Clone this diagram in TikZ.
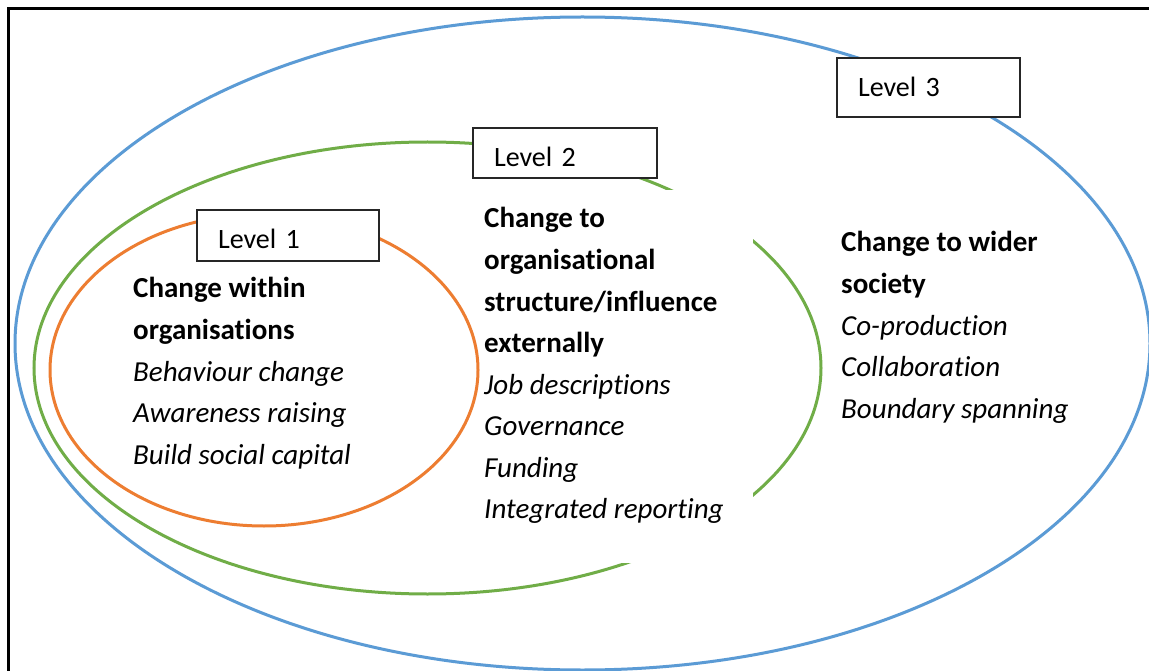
\documentclass[tikz,border=0pt]{standalone}
\usepackage{fontspec}
\setmainfont[Ligatures=NoCommon]{Carlito}
\definecolor{ringblue}{HTML}{5B9BD5}
\definecolor{ringgreen}{HTML}{70AD47}
\definecolor{ringorange}{HTML}{ED7D31}
\tikzset{
  ring/.style={line width=3pt},
  levelbox/.style={draw=black!85, line width=1.3pt, fill=white, align=left, inner xsep=21pt, inner ysep=0pt,
    font=\fontsize{28}{34}\selectfont},
  head/.style={anchor=base west, inner sep=0pt, font=\fontsize{29}{41}\selectfont\bfseries},
  item/.style={anchor=base west, inner sep=0pt, font=\fontsize{29}{41}\selectfont\itshape},
}
\begin{document}
\begin{tikzpicture}[x=1pt,y=-1pt]
\useasboundingbox (0,0) rectangle (1149,671);
\clip (0,0) rectangle (1149,671);
\fill[white] (0,0) rectangle (1149,671);
% frame (cut off at right and bottom)
\draw[line width=3pt, black] (8,700) -- (8,9) -- (1180,9);
% rings
\draw[ring, ringblue] (582.5,343.5) ellipse [x radius=567.5pt, y radius=326.5pt];
\draw[ring, ringgreen] (427.5,368) ellipse [x radius=393.5pt, y radius=226pt];
\draw[ring, ringorange] (264,370) ellipse [x radius=214pt, y radius=156pt];
% white backing of the level 2 text
\node[fill=white, inner sep=0pt, minimum width=271pt, minimum height=373pt, anchor=north west] (wbox) at (482,190) {};
% level labels
\node[levelbox, text width=140pt, minimum height=51pt, text height=30pt, text depth=3pt] (lev1) at (288,235.5) {Level 1};
\node[levelbox, text width=142pt, minimum height=50pt, text height=30pt, text depth=2pt] (lev2) at (565,153) {Level 2};
\node[levelbox, text width=141pt, minimum height=59pt, text height=24pt, text depth=5pt] (lev3) at (928.5,87.5) {Level 3};
% level 1 text
\node[head] (a1) at (133,298) {Change within};
\node[head] (a2) at (133,339.5) {organisations};
\node[item] (a3) at (133,381) {Behaviour change};
\node[item] (a4) at (133,422.5) {Awareness raising};
\node[item] (a5) at (133,464) {Build social capital};
% level 2 text
\node[head] (b1) at (484,228) {Change to};
\node[head] (b2) at (484,269.5) {organisational};
\node[head] (b3) at (484,311) {structure/influence};
\node[head] (b4) at (484,352.5) {externally};
\node[item] (b5) at (484,394) {Job descriptions};
\node[item] (b6) at (484,435.5) {Governance};
\node[item] (b7) at (484,477) {Funding};
\node[item] (b8) at (484,518.5) {Integrated reporting};
% level 3 text
\node[head] (c1) at (841,252) {Change to wider};
\node[head] (c2) at (841,293.5) {society};
\node[item] (c3) at (841,335) {Co-production};
\node[item] (c4) at (841,376.5) {Collaboration};
\node[item] (c5) at (841,418) {Boundary spanning};
\end{tikzpicture}
\end{document}
